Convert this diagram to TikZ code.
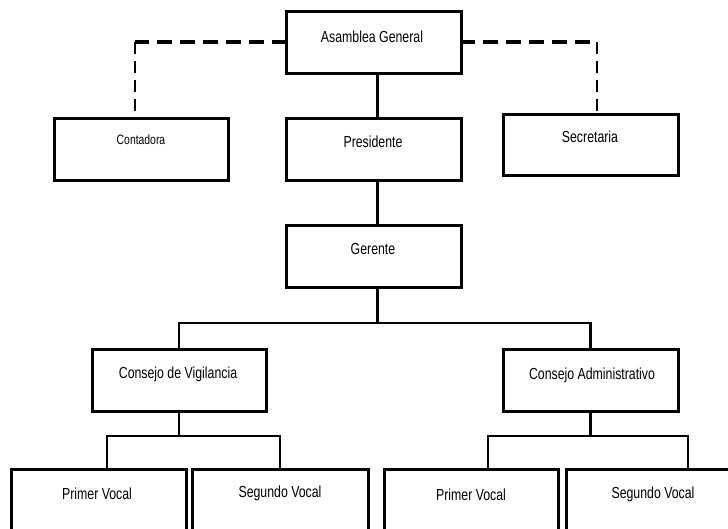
\documentclass[tikz,border=0pt]{standalone}
\usepackage{fontspec}
\setmainfont{Liberation Sans}[FakeStretch=0.77]
\usetikzlibrary{calc}
\begin{document}
\begin{tikzpicture}[x=1pt,y=-1pt,
  box/.style={draw, line width=3pt, minimum width=175pt, minimum height=62pt, inner sep=0pt},
  lbl/.style={font=\fontsize{16}{18}\selectfont, inner sep=0pt},
  small/.style={font=\fontsize{13.5}{15}\selectfont, inner sep=0pt},
  conn/.style={line width=2.8pt},
  dhor/.style={line width=3.8pt, dash pattern=on 15pt off 8pt},
  dver/.style={line width=2.2pt, dash pattern=on 12pt off 7pt}]
\useasboundingbox (0,0) rectangle (728,529);
% boxes
\node[box] (asam) at (373.5,43) {};
\node[box, minimum width=174pt] (cont) at (141,150) {};
\node[box] (pres) at (373.5,150) {};
\node[box, minimum height=61pt] (secr) at (590.5,145.5) {};
\node[box] (ger) at (373.5,257) {};
\node[box, minimum width=174pt] (cvig) at (179,380) {};
\node[box] (cadm) at (590.5,380) {};
\node[box, minimum height=80pt] (pv1) at (98.5,509) {};
\node[box, minimum width=176pt, minimum height=80pt] (sv1) at (280,509) {};
\node[box, minimum width=174pt, minimum height=80pt] (pv2) at (471,509) {};
\node[box, minimum height=80pt] (sv2) at (653.5,509) {};
% texts
\node[lbl] (asamt) at (372,37) {Asamblea General};
\node[small] (contt) at (141,140) {Contadora};
\node[lbl] (prest) at (373,142) {Presidente};
\node[lbl] (secrt) at (590,137) {Secretaria};
\node[lbl] (gert) at (373,249) {Gerente};
\node[lbl] (cvigt) at (178,374) {Consejo de Vigilancia};
\node[lbl] (cadmt) at (592,375) {Consejo Administrativo};
\node[lbl] (pv1t) at (97,494) {Primer Vocal};
\node[lbl] (sv1t) at (280,493) {Segundo Vocal};
\node[lbl] (pv2t) at (471,495) {Primer Vocal};
\node[lbl] (sv2t) at (653,494) {Segundo Vocal};
% coordinates
\coordinate (asamL) at (287,42);
\coordinate (asamR) at (460,42);
\coordinate (cornL) at (135,42);
\coordinate (cornR) at (597,42);
\coordinate (contTop) at (135,119);
\coordinate (secrTop) at (597,115);
\coordinate (gbar) at (377.5,323);
\coordinate (vbar) at (179,436);
\coordinate (abar) at (590.5,436);
\coordinate (pv1top) at (107,469);
\coordinate (sv1top) at (280,469);
\coordinate (pv2top) at (488,469);
\coordinate (sv2top) at (688,469);
% solid connectors
\draw[conn] ($(asam.south)+(4,0)$) -- ($(pres.north)+(4,0)$);
\draw[conn] ($(pres.south)+(4,0)$) -- ($(ger.north)+(4,0)$);
\draw[conn] ($(ger.south)+(4,0)$) -- (gbar);
\draw[conn] (cvig.north) |- (gbar) -| (cadm.north);
\draw[conn] (cvig.south) -- (vbar);
\draw[conn] (pv1top) |- (vbar) -| (sv1top);
\draw[conn] (cadm.south) -- (abar);
\draw[conn] (pv2top) |- (abar) -| (sv2top);
% dashed connectors
\draw[dhor] (asamL) -- (cornL);
\draw[dver] (cornL) -- (contTop);
\draw[dhor] (asamR) -- (cornR);
\draw[dver] (cornR) -- (secrTop);
\end{tikzpicture}
\end{document}
